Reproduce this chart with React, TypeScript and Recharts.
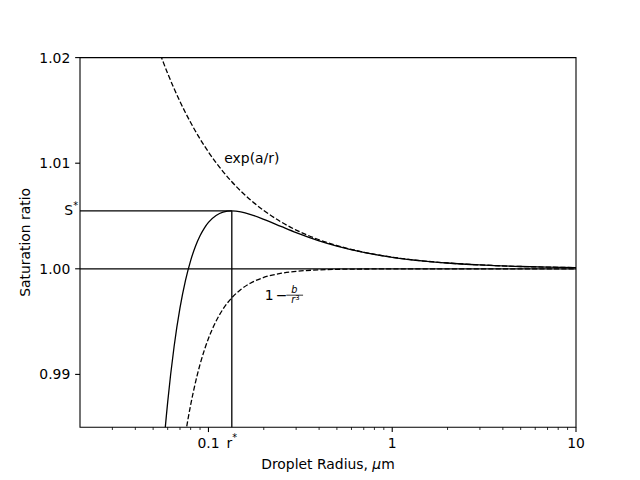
import { LineChart, Line, XAxis, YAxis, ReferenceLine, ReferenceArea, ReferenceDot, Label } from "recharts";

// droplet radius (µm) and the three curves
const RADII = [0.05, 0.055, 0.06, 0.065, 0.07, 0.075, 0.08, 0.085, 0.09, 0.095, 0.1, 0.11, 0.12, 0.134, 0.15, 0.17, 0.2, 0.25, 0.3, 0.4, 0.5, 0.7, 1, 1.5, 2, 3, 5, 7, 10];
const CURVATURE = [1.02224, 1.0202, 1.0185, 1.01707, 1.01584, 1.01478, 1.01385, 1.01303, 1.0123, 1.01165, 1.01106, 1.01005, 1.00921, 1.00824, 1.00736, 1.00649, 1.00552, 1.00441, 1.00367, 1.00275, 1.0022, 1.00157, 1.0011, 1.00073, 1.00055, 1.00037, 1.00022, 1.00016, 1.00011];
const SOLUTE = [0.9472, 0.96033, 0.96944, 0.97597, 0.98076, 0.98436, 0.98711, 0.98925, 0.99095, 0.9923, 0.9934, 0.99504, 0.99618, 0.99726, 0.99804, 0.99866, 0.99918, 0.99958, 0.99976, 0.9999, 0.99995, 0.99998, 0.99999, 1, 1, 1, 1, 1, 1];
const SATURATION = [0.96827, 0.97973, 0.98738, 0.99262, 0.99629, 0.9989, 1.00078, 1.00214, 1.00313, 1.00386, 1.00439, 1.00504, 1.00536, 1.00548, 1.00539, 1.00514, 1.00469, 1.00399, 1.00343, 1.00265, 1.00215, 1.00155, 1.00109, 1.00073, 1.00055, 1.00037, 1.00022, 1.00016, 1.00011];

const R_STAR = 0.134;
const S_STAR = 1.00548;

const X_DOMAIN = [0.02, 10];
const Y_DOMAIN = [0.985, 1.02];
const X_MAJOR = [0.1, 1, 10];
const X_MINOR = [0.03, 0.04, 0.05, 0.06, 0.07, 0.08, 0.09, 0.2, 0.3, 0.4, 0.5, 0.6, 0.7, 0.8, 0.9, 2, 3, 4, 5, 6, 7, 8, 9];
const X_LABELS = ["0.1", "1", "10"];
const Y_TICKS = [0.99, 1.0, 1.01, 1.02];
const Y_LABELS = ["0.99", "1.00", "1.01", "1.02"];

const data = RADII.map((r, i) => ({ r, curv: CURVATURE[i], solute: SOLUTE[i], sat: SATURATION[i] }));

const FONT = "DejaVu Sans, sans-serif";
const FS = 13.9;

function XTick({ x, y, payload }: any) {
  const v = payload.value;
  if (v === R_STAR) {
    return (
      <text x={x} y={y + 20.3} textAnchor="middle" fontFamily={FONT} fontSize={FS} fill="#000">
        r<tspan dy={-6.5} fontSize={9.7}>*</tspan>
      </text>
    );
  }
  const idx = X_MAJOR.indexOf(v);
  const major = idx >= 0;
  return (
    <g>
      <line x1={x} x2={x} y1={y} y2={y + (major ? 4.86 : 2.78)} stroke="#000" strokeWidth={major ? 1.1 : 0.83} />
      {major && (
        <text x={x} y={y + 20.3} textAnchor="middle" fontFamily={FONT} fontSize={FS} fill="#000">
          {X_LABELS[idx]}
        </text>
      )}
    </g>
  );
}

function YTick({ x, y, payload }: any) {
  const v = payload.value;
  if (v === S_STAR) {
    return (
      <text x={x - 2} y={y + 4.5} textAnchor="end" fontFamily={FONT} fontSize={FS} fill="#000">
        S<tspan dy={-6.3} fontSize={9.7}>*</tspan>
      </text>
    );
  }
  const idx = Y_TICKS.indexOf(v);
  return (
    <g>
      <line x1={x} x2={x - 4.86} y1={y} y2={y} stroke="#000" strokeWidth={1.1} />
      <text x={x - 9.7} y={y + 5} textAnchor="end" fontFamily={FONT} fontSize={FS} fill="#000">
        {Y_LABELS[idx]}
      </text>
    </g>
  );
}

function CurvatureText({ cx, cy }: any) {
  return (
    <text x={cx} y={cy} fontFamily={FONT} fontSize={FS} fill="#000">
      exp(a/r)
    </text>
  );
}

function SoluteText({ cx, cy }: any) {
  return (
    <g fontFamily={FONT} fill="#000">
      <text x={cx + 1} y={cy} fontSize={FS}>1</text>
      <text x={cx + 12} y={cy} fontSize={FS}>−</text>
      <text x={cx + 30.5} y={cy - 7} fontSize={9.7} fontStyle="italic" textAnchor="middle">b</text>
      <line x1={cx + 22.6} x2={cx + 39.3} y1={cy - 5.3} y2={cy - 5.3} stroke="#000" strokeWidth={0.8} />
      <text x={cx + 31.6} y={cy + 3} fontSize={9.7} textAnchor="middle">
        <tspan fontStyle="italic">r</tspan>
        <tspan dy={-3.5} fontSize={6.8}>3</tspan>
      </text>
    </g>
  );
}

export default function App() {
  return (
    <div style={{ position: "absolute", left: 0, top: 0 }}>
      <LineChart width={640} height={480} data={data} margin={{ top: 57.6, right: 64, bottom: 0, left: 0 }}>
        <XAxis
          dataKey="r"
          type="number"
          scale="log"
          domain={X_DOMAIN}
          allowDataOverflow
          ticks={[...X_MINOR, ...X_MAJOR, R_STAR]}
          interval={0}
          tick={<XTick />}
          tickSize={0}
          tickMargin={0}
          tickLine={false}
          axisLine={false}
          height={52.8}
        >
          <Label
            content={({ viewBox }: any) => (
              <text x={viewBox.x + viewBox.width / 2} y={469} textAnchor="middle" fontFamily={FONT} fontSize={FS} fill="#000">
                Droplet Radius, <tspan fontStyle="italic">μ</tspan>m
              </text>
            )}
          />
        </XAxis>
        <YAxis
          type="number"
          domain={Y_DOMAIN}
          allowDataOverflow
          ticks={[...Y_TICKS, S_STAR]}
          interval={0}
          tick={<YTick />}
          tickSize={0}
          tickMargin={0}
          tickLine={false}
          axisLine={false}
          width={80}
        >
          <Label
            content={({ viewBox }: any) => {
              const cy = viewBox.y + viewBox.height / 2;
              return (
                <text x={30.5} y={cy} transform={`rotate(-90 30.5 ${cy})`} textAnchor="middle" fontFamily={FONT} fontSize={FS} fill="#000">
                  Saturation ratio
                </text>
              );
            }}
          />
        </YAxis>
        <ReferenceLine y={1} stroke="#000" strokeWidth={1.3} />
        <ReferenceLine segment={[{ x: X_DOMAIN[0], y: S_STAR }, { x: R_STAR, y: S_STAR }]} stroke="#000" strokeWidth={1.3} />
        <ReferenceLine segment={[{ x: R_STAR, y: Y_DOMAIN[0] }, { x: R_STAR, y: S_STAR }]} stroke="#000" strokeWidth={1.3} />
        <Line dataKey="curv" type="monotone" stroke="#000" strokeWidth={1.3} strokeDasharray="5.1 2.2" dot={false} isAnimationActive={false} />
        <Line dataKey="solute" type="monotone" stroke="#000" strokeWidth={1.3} strokeDasharray="5.1 2.2" dot={false} isAnimationActive={false} />
        <Line dataKey="sat" type="monotone" stroke="#000" strokeWidth={1.3} dot={false} isAnimationActive={false} />
        <ReferenceDot x={0.122} y={1.01} r={0} shape={<CurvatureText />} />
        <ReferenceDot x={0.2} y={0.997} r={0} shape={<SoluteText />} />
        <ReferenceArea x1={X_DOMAIN[0]} x2={X_DOMAIN[1]} y1={Y_DOMAIN[0]} y2={Y_DOMAIN[1]} fill="none" stroke="#000" strokeWidth={1.1} />
      </LineChart>
    </div>
  );
}
